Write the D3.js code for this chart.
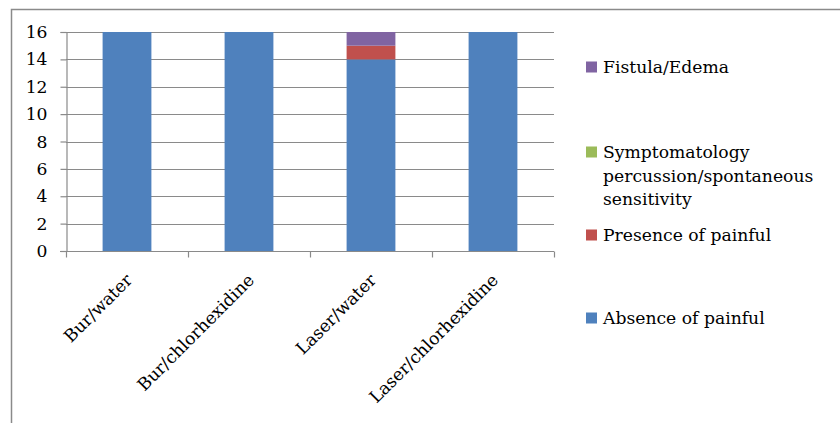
<!DOCTYPE html>
<html>
<head>
<meta charset="utf-8">
<script src="https://cdn.jsdelivr.net/npm/d3@7"></script>
<style>
  html, body { margin: 0; padding: 0; background: #fff; }
  svg { display: block; }
  text { font-family: "DejaVu Serif", serif; fill: #000; }
</style>
</head>
<body>
<svg id="chart" width="840" height="423"></svg>
<script>
// Treatment groups along the x axis
const categories = ["Bur/water", "Bur/chlorhexidine", "Laser/water", "Laser/chlorhexidine"];

// Outcome series, stacked bottom to top
const seriesNames = [
  "Absence of painful",
  "Presence of painful",
  "Symptomatology percussion/spontaneous sensitivity",
  "Fistula/Edema"
];
const absenceOfPainful = [16, 16, 14, 16];
const presenceOfPainful = [0, 0, 1, 0];
const symptomatology = [0, 0, 0, 0];
const fistulaEdema = [0, 0, 1, 0];

const yTicks = [0, 2, 4, 6, 8, 10, 12, 14, 16];
const seriesColors = ["#4F81BD", "#C0504D", "#9BBB59", "#8064A2"];

// Legend text, wrapped as in the legend box
const legendLines = [
  ["Absence of painful"],
  ["Presence of painful"],
  ["Symptomatology", "percussion/spontaneous", "sensitivity"],
  ["Fistula/Edema"]
];

const rows = categories.map((c, i) => ({
  category: c,
  [seriesNames[0]]: absenceOfPainful[i],
  [seriesNames[1]]: presenceOfPainful[i],
  [seriesNames[2]]: symptomatology[i],
  [seriesNames[3]]: fistulaEdema[i]
}));

const svg = d3.select("#chart");
const fontSize = 17.2;
const gridColor = "#8a8a8a";

// Outer chart frame
svg.append("rect")
  .attr("x", 11.5).attr("y", 9.5)
  .attr("width", 840).attr("height", 430)
  .attr("fill", "none").attr("stroke", gridColor).attr("stroke-width", 1.5);

const plot = { left: 66, right: 554, top: 32, bottom: 251 };

const x = d3.scaleBand()
  .domain(categories)
  .range([plot.left, plot.right])
  .paddingInner(0.6)
  .paddingOuter(0.3);

const xCat = d3.scaleBand().domain(categories).range([plot.left, plot.right]).padding(0);

const y = d3.scaleLinear().domain([0, 16]).range([plot.bottom, plot.top]);

// Horizontal gridlines
svg.append("g")
  .selectAll("line")
  .data(yTicks.filter(t => t > 0))
  .join("line")
  .attr("x1", plot.left).attr("x2", plot.right)
  .attr("y1", d => Math.round(y(d)) + 0.5).attr("y2", d => Math.round(y(d)) + 0.5)
  .attr("stroke", gridColor).attr("stroke-width", 1.2);

// Stacked bars
const stack = d3.stack().keys(seriesNames);
const stacked = stack(rows);

svg.append("g")
  .selectAll("g")
  .data(stacked)
  .join("g")
  .attr("fill", (d, i) => seriesColors[i])
  .selectAll("rect")
  .data(d => d.filter(p => p[1] - p[0] > 0))
  .join("rect")
  .attr("x", d => x(d.data.category))
  .attr("width", x.bandwidth())
  .attr("y", d => y(d[1]))
  .attr("height", d => y(d[0]) - y(d[1]));

// Y axis
const yAxis = svg.append("g")
  .attr("transform", `translate(${plot.left + 0.5},0)`)
  .call(d3.axisLeft(y).tickValues(yTicks).tickSize(6).tickPadding(13).tickFormat(d3.format("d")));
yAxis.select(".domain").attr("stroke", gridColor).attr("stroke-width", 1.2);
yAxis.selectAll(".tick line").attr("stroke", gridColor).attr("stroke-width", 1.2);
yAxis.selectAll(".tick text")
  .style("font-family", "DejaVu Serif, serif")
  .style("font-size", fontSize + "px")
  .attr("fill", "#000");

// X axis line with boundary ticks
const xAxisG = svg.append("g").attr("transform", `translate(0,${plot.bottom + 0.5})`);
xAxisG.append("line")
  .attr("x1", plot.left - 6).attr("x2", plot.right)
  .attr("stroke", gridColor).attr("stroke-width", 1.2);
const boundaries = categories.map(c => xCat(c)).concat([plot.right]);
xAxisG.selectAll("line.tick")
  .data(boundaries)
  .join("line")
  .attr("class", "tick")
  .attr("x1", d => Math.round(d) + 0.5).attr("x2", d => Math.round(d) + 0.5)
  .attr("y1", 0).attr("y2", 6)
  .attr("stroke", gridColor).attr("stroke-width", 1.2);

// Rotated category labels
svg.append("g")
  .selectAll("text")
  .data(categories)
  .join("text")
  .attr("transform", d => `translate(${xCat(d) + xCat.bandwidth() / 2 + 2},${plot.bottom + 26}) rotate(-45)`)
  .attr("text-anchor", "end")
  .attr("dy", "0.35em")
  .style("font-size", fontSize + "px")
  .text(d => d);

// Legend, top entry is the last stacked series
const legendY = [318, 235, 152, 67];
const legend = svg.append("g");
seriesNames.forEach((name, i) => {
  const g = legend.append("g").attr("transform", `translate(586,${legendY[i]})`);
  g.append("rect")
    .attr("x", 0).attr("y", -5.5)
    .attr("width", 11).attr("height", 11)
    .attr("fill", seriesColors[i]);
  g.selectAll("text")
    .data(legendLines[i])
    .join("text")
    .attr("x", 17)
    .attr("y", (d, j) => j * 23.5)
    .attr("dy", "0.35em")
    .style("font-size", fontSize + "px")
    .text(d => d);
});
</script>
</body>
</html>
